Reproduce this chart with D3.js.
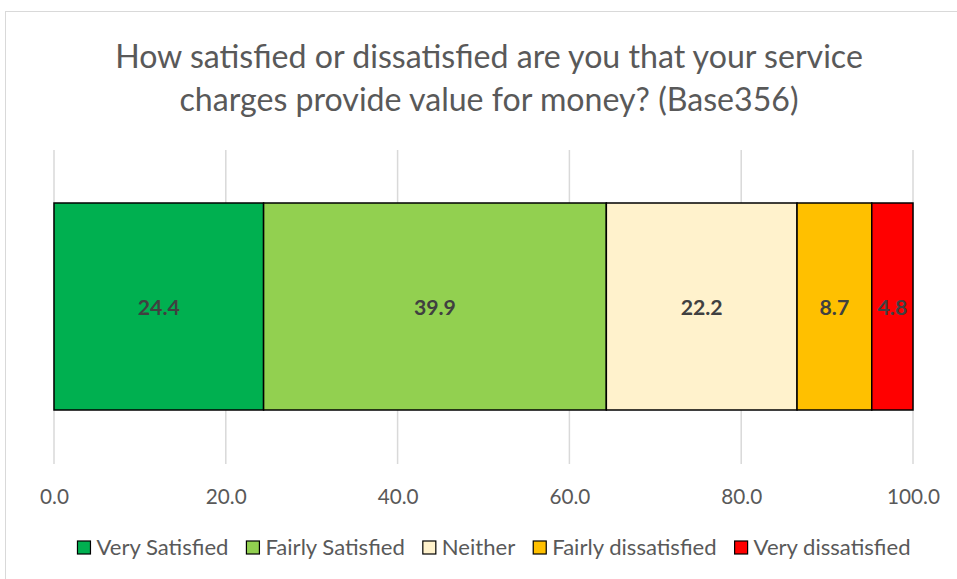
<!DOCTYPE html>
<html><head><meta charset="utf-8">
<script src="https://cdn.jsdelivr.net/npm/d3@7"></script>
<style>body{margin:0;background:#fff}svg{display:block}</style>
</head><body>
<svg id="c" width="957" height="579"></svg>
<script>
const categories = ["Very Satisfied","Fairly Satisfied","Neither","Fairly dissatisfied","Very dissatisfied"];
const values = [24.4, 39.9, 22.2, 8.7, 4.8];
const colors = ["#00B050","#92D050","#FFF2CC","#FFC000","#FF0000"];
const tickValues = [0,20,40,60,80,100];
const titleLines = ["How satisfied or dissatisfied are you that your service","charges provide value for money? (Base356)"];

const font = "Lato, 'Open Sans', sans-serif";
const svg = d3.select("#c");
svg.append("rect").attr("x",5.5).attr("y",11.5).attr("width",960).attr("height",600)
  .attr("fill","#fff").attr("stroke","#d9d9d9");

// size a font so that a sample string reaches a target width
function fitSize(str, target, weight){
  const t = svg.append("text").attr("font-family",font).attr("font-size",20)
    .attr("font-weight",weight||"normal").text(str);
  const w = t.node().getComputedTextLength(); t.remove();
  return 20*target/w;
}
const titleSize = fitSize(titleLines[0], 748);
const tickSize = fitSize("100.0", 53);
const legSize = fitSize("Very Satisfied", 132);
const labSize = fitSize("24.4", 42, "bold");

const x = d3.scaleLinear().domain([0,100]).range([54,913]);

// gridlines
svg.append("g").selectAll("line").data(tickValues).join("line")
  .attr("x1",d=>x(d)).attr("x2",d=>x(d)).attr("y1",150).attr("y2",464)
  .attr("stroke","#d9d9d9").attr("stroke-width",1.5);

// title
const tl = svg.append("g");
titleLines.forEach((t,i)=>{
  tl.append("text").attr("x",489).attr("y",68+i*43).attr("text-anchor","middle")
    .attr("font-family",font).attr("font-size",titleSize).attr("fill","#595959").text(t);
});

// stacked
let cum = 0;
const segs = values.map((v,i)=>{const s={i,v,x0:cum,x1:cum+v};cum+=v;return s;});
const bt = 203, bb = 410;
svg.append("g").selectAll("rect").data(segs).join("rect")
  .attr("x",d=>x(d.x0)).attr("width",d=>x(d.x1)-x(d.x0))
  .attr("y",bt).attr("height",bb-bt)
  .attr("fill",d=>colors[d.i]).attr("stroke","#000").attr("stroke-width",1.5);
svg.append("g").selectAll("text").data(segs).join("text")
  .attr("x",d=>(x(d.x0)+x(d.x1))/2).attr("y",315)
  .attr("text-anchor","middle").attr("font-family",font).attr("font-weight","bold")
  .attr("font-size",labSize).attr("fill","#404040").text(d=>d.v.toFixed(1));

// axis
const ax = svg.append("g").attr("transform","translate(0,0)")
  .call(d3.axisBottom(x).tickValues(tickValues).tickFormat(d3.format(".1f")).tickSize(0));
ax.select(".domain").remove();
ax.selectAll("text").attr("font-family",font).attr("font-size",tickSize).attr("fill","#595959")
  .attr("y",504).attr("dy",null);

// legend
const lg = svg.append("g");
const items = [];
categories.forEach((c,i)=>{
  const g = lg.append("g");
  g.append("rect").attr("x",0).attr("y",-7).attr("width",13).attr("height",13)
    .attr("fill",colors[i]).attr("stroke","#000").attr("stroke-width",1.2);
  const t = g.append("text").attr("x",19).attr("y",7)
    .attr("font-family",font).attr("font-size",legSize).attr("fill","#595959").text(c);
  items.push({g,w:19+t.node().getComputedTextLength()});
});
const gap = 18;
const total = d3.sum(items,d=>d.w)+gap*(items.length-1);
let lx = 494 - total/2;
items.forEach(it=>{it.g.attr("transform",`translate(${lx},548)`);lx+=it.w+gap;});
</script>
</body></html>
